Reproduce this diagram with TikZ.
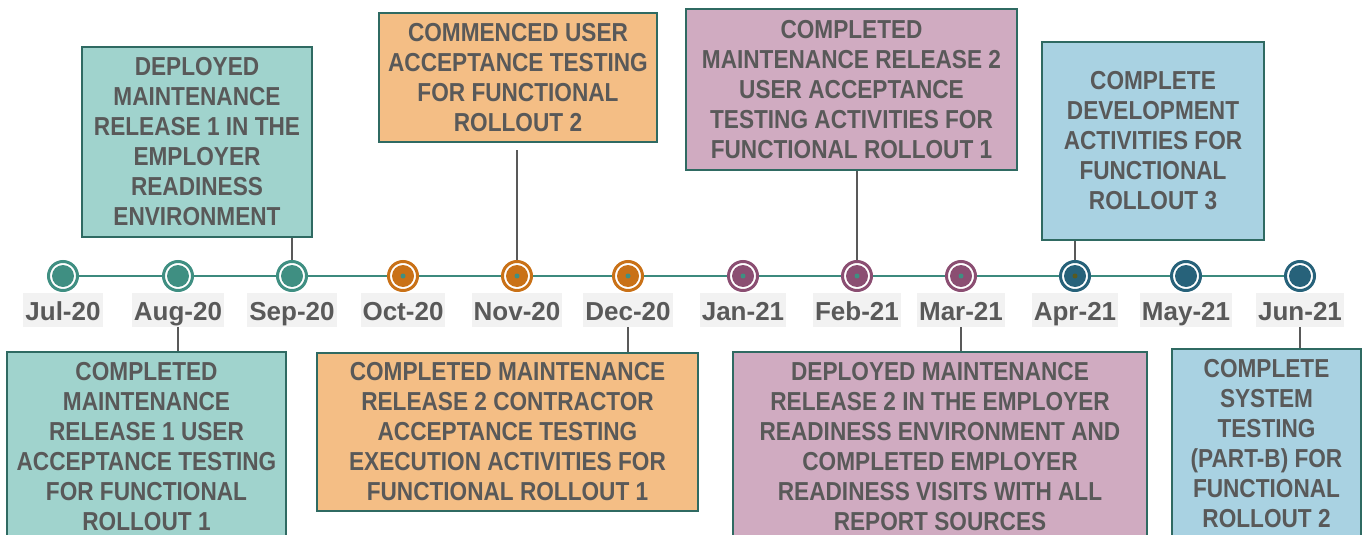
\documentclass[tikz,border=0pt]{standalone}
\usepackage{fontspec}
\setmainfont{Liberation Sans}[FakeStretch=0.87]
\newfontfamily\monthfont{Liberation Sans}
\usetikzlibrary{positioning,backgrounds}
\definecolor{tealdot}{HTML}{3F8F82}
\definecolor{tealbox}{HTML}{A0D3CD}
\definecolor{orangedot}{HTML}{C97117}
\definecolor{orangebox}{HTML}{F4BE85}
\definecolor{purpledot}{HTML}{8B4E72}
\definecolor{purplebox}{HTML}{D0ABC1}
\definecolor{bluedot}{HTML}{27627A}
\definecolor{bluebox}{HTML}{A9D2E2}
\definecolor{edgeteal}{HTML}{2F6A62}
\definecolor{linegreen}{HTML}{3C8A7E}
\definecolor{olivedot}{HTML}{5A5A1E}
\definecolor{txtgray}{HTML}{595959}
\definecolor{lblgray}{HTML}{F2F2F2}
\tikzset{
milestone/.style={circle, minimum size=29pt, inner sep=0pt, line width=3pt, draw=#1, fill=white,
  path picture={\fill[#1] (path picture bounding box.center) circle (11pt);}},
month/.style={fill=lblgray, text=txtgray, font=\monthfont\bfseries\fontsize{26}{30}\selectfont,
  inner xsep=2pt, inner ysep=0pt, text height=27pt, text depth=7pt},
event/.style={rectangle, draw=edgeteal, line width=2pt, text=txtgray, align=center, inner sep=0pt,
  font=\bfseries\fontsize{26}{30}\selectfont},
connect/.style={draw=txtgray, line width=1.5pt}
}

\begin{document}
\begin{tikzpicture}[x=1pt,y=-1pt]
    \useasboundingbox (0,0) rectangle (1362,535);
    \clip (0,0) rectangle (1362,535);

    \node[milestone=tealdot] (m1) at (63,276) {};
    \node[milestone=tealdot] (m2) at (178,276) {};
    \node[milestone=tealdot] (m3) at (292,276) {};
    \node[milestone=orangedot] (m4) at (403,276) {};
    \node[milestone=orangedot] (m5) at (517,276) {};
    \node[milestone=orangedot] (m6) at (628,276) {};
    \node[milestone=purpledot] (m7) at (743,276) {};
    \node[milestone=purpledot] (m8) at (857,276) {};
    \node[milestone=purpledot] (m9) at (961,276) {};
    \node[milestone=bluedot] (m10) at (1075,276) {};
    \node[milestone=bluedot] (m11) at (1186,276) {};
    \node[milestone=bluedot] (m12) at (1300,276) {};

    \foreach \m in {m4,m5,m6,m7,m8,m9}
        \fill[tealdot] (\m) circle (2.5pt);
    \fill[olivedot] (m10) circle (2.5pt);

    \begin{scope}[on background layer]
        \draw[linegreen, line width=2pt] (m1.center) -- (m12.center);
    \end{scope}

    \node[month, anchor=north] (l1) at (63,293) {Jul-20};
    \node[month, anchor=north] (l2) at (178,293) {Aug-20};
    \node[month, anchor=north] (l3) at (292,293) {Sep-20};
    \node[month, anchor=north] (l4) at (403,293) {Oct-20};
    \node[month, anchor=north] (l5) at (517,293) {Nov-20};
    \node[month, anchor=north] (l6) at (628,293) {Dec-20};
    \node[month, anchor=north] (l7) at (743,293) {Jan-21};
    \node[month, anchor=north] (l8) at (857,293) {Feb-21};
    \node[month, anchor=north] (l9) at (961,293) {Mar-21};
    \node[month, anchor=north] (l10) at (1075,293) {Apr-21};
    \node[month, anchor=north] (l11) at (1186,293) {May-21};
    \node[month, anchor=north] (l12) at (1300,293) {Jun-21};

    % events above the line
    \node[event, fill=tealbox, minimum width=230pt, minimum height=190pt] (b1) at (197,142)
        {DEPLOYED\\MAINTENANCE\\RELEASE 1 IN THE\\EMPLOYER\\READINESS\\ENVIRONMENT};
    \node[event, fill=orangebox, minimum width=278pt, minimum height=129pt] (b2) at (518,77.5)
        {COMMENCED USER\\ACCEPTANCE TESTING\\FOR FUNCTIONAL\\ROLLOUT 2};
    \node[event, fill=purplebox, minimum width=331pt, minimum height=161pt] (b3) at (851.5,89.5)
        {COMPLETED\\MAINTENANCE RELEASE 2\\USER ACCEPTANCE\\TESTING ACTIVITIES FOR\\FUNCTIONAL ROLLOUT 1};
    \node[event, fill=bluebox, minimum width=222pt, minimum height=198pt] (b4) at (1153,141)
        {COMPLETE\\DEVELOPMENT\\ACTIVITIES FOR\\FUNCTIONAL\\ROLLOUT 3};

    % events below the line
    \node[event, fill=tealbox, minimum width=279pt, minimum height=190pt] (b5) at (146.5,447)
        {COMPLETED\\MAINTENANCE\\RELEASE 1 USER\\ACCEPTANCE TESTING\\FOR FUNCTIONAL\\ROLLOUT 1};
    \node[event, fill=orangebox, minimum width=381pt, minimum height=158pt] (b6) at (507.5,432)
        {COMPLETED MAINTENANCE\\RELEASE 2 CONTRACTOR\\ACCEPTANCE TESTING\\EXECUTION ACTIVITIES FOR\\FUNCTIONAL ROLLOUT 1};
    \node[event, fill=purplebox, minimum width=414pt, minimum height=190pt] (b7) at (940,447)
        {DEPLOYED MAINTENANCE\\RELEASE 2 IN THE EMPLOYER\\READINESS ENVIRONMENT AND\\COMPLETED EMPLOYER\\READINESS VISITS WITH ALL\\REPORT SOURCES};
    \node[event, fill=bluebox, minimum width=189pt, minimum height=190pt] (b8) at (1266.5,444)
        {COMPLETE\\SYSTEM\\TESTING\\(PART-B) FOR\\FUNCTIONAL\\ROLLOUT 2};

    \coordinate (c5) at (517,150);

    \draw[connect] (m3.north) -- (m3.north |- b1.south);
    \draw[connect] (m5.north) -- (c5);
    \draw[connect] (m8.north) -- (m8.north |- b3.south);
    \draw[connect] (m10.north) -- (m10.north |- b4.south);
    \draw[connect] (l2.south) -- (l2.south |- b5.north);
    \draw[connect] (l6.south) -- (l6.south |- b6.north);
    \draw[connect] (l9.south) -- (l9.south |- b7.north);
    \draw[connect] (l12.south) -- (l12.south |- b8.north);
\end{tikzpicture}
\end{document}
